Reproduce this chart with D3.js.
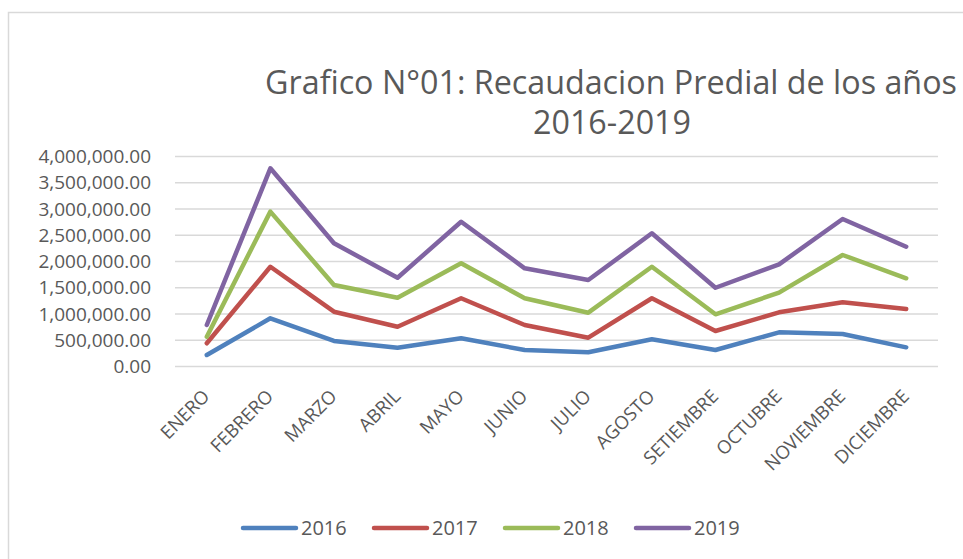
<!DOCTYPE html>
<html>
<head>
<meta charset="utf-8">
<script src="https://cdn.jsdelivr.net/npm/d3@7"></script>
<style>
  html, body { margin: 0; padding: 0; background: #fff; }
  svg { display: block; }
  text { font-family: "Open Sans", sans-serif; fill: #595959; }
</style>
</head>
<body>
<svg id="chart" width="963" height="559"></svg>
<script>
// ---- data ----
const months = ["ENERO","FEBRERO","MARZO","ABRIL","MAYO","JUNIO","JULIO","AGOSTO","SETIEMBRE","OCTUBRE","NOVIEMBRE","DICIEMBRE"];
const years = ["2016","2017","2018","2019"];
// Stacked line chart: each year's own value, stacked on previous years
const v2016 = [219000, 918000, 486000, 358000, 537000, 314000, 270000, 518000, 314000, 651000, 619000, 365000];
const v2017 = [223000, 982000, 558000, 400000, 763000, 476000, 279000, 782000, 362000, 381000, 604000, 730000];
const v2018 = [126000, 1050000, 508000, 552000, 666000, 510000, 476000, 600000, 318000, 374000, 901000, 585000];
const v2019 = [222000, 825000, 795000, 380000, 792000, 570000, 623000, 637000, 506000, 540000, 686000, 602000];
const yTicks = [0, 500000, 1000000, 1500000, 2000000, 2500000, 3000000, 3500000, 4000000];
const colors = ["#4f81bd", "#c0504d", "#9bbb59", "#8064a2"];
const titleLines = ["Grafico N°01: Recaudacion Predial de los años", "2016-2019"];

const table = months.map((m, i) => ({month: m, "2016": v2016[i], "2017": v2017[i], "2018": v2018[i], "2019": v2019[i]}));
const stacked = d3.stack().keys(years)(table);

const svg = d3.select("#chart");

// chart border (Excel chart area)
svg.append("path")
  .attr("d", "M8.5,559 L8.5,12.5 L963,12.5")
  .attr("fill", "none").attr("stroke", "#d9d9d9").attr("stroke-width", 1.5);

const plot = {left: 175, right: 938, top: 156.5, bottom: 366.5};

const x = d3.scaleBand().domain(months).range([plot.left, plot.right]);
const y = d3.scaleLinear().domain([0, 4000000]).range([plot.bottom, plot.top]);

// gridlines
svg.append("g").selectAll("line").data(yTicks).join("line")
  .attr("x1", plot.left).attr("x2", plot.right)
  .attr("y1", d => y(d)).attr("y2", d => y(d))
  .attr("stroke", "#d9d9d9").attr("stroke-width", 1.5);

// y axis labels
const fmt = d3.format(",.2f");
const yAxis = d3.axisLeft(y).tickValues(yTicks).tickFormat(fmt).tickSize(0).tickPadding(0);
const gy = svg.append("g").attr("transform", "translate(151,0)").call(yAxis);
gy.select(".domain").remove();
gy.selectAll("text").attr("font-size", "19px").attr("fill", "#595959")
  .style("font-family", "'Open Sans', sans-serif");

// x axis labels
const xAxis = d3.axisBottom(x).tickSize(0).tickPadding(0);
const gx = svg.append("g").attr("transform", `translate(0,${plot.bottom})`).call(xAxis);
gx.select(".domain").remove();
gx.selectAll(".tick text")
  .attr("font-size", "18.5px").attr("fill", "#595959")
  .style("font-family", "'Open Sans', sans-serif")
  .attr("text-anchor", "end")
  .attr("dy", null).attr("y", null)
  .attr("transform", "translate(4,31) rotate(-45)");

// lines
const line = d3.line()
  .x((d, i) => x(months[i]) + x.bandwidth() / 2)
  .y(d => y(d[1]));

svg.append("g").selectAll("path").data(stacked).join("path")
  .attr("d", s => line(s))
  .attr("fill", "none")
  .attr("stroke", (s, i) => colors[i])
  .attr("stroke-width", 4.5)
  .attr("stroke-linecap", "round")
  .attr("stroke-linejoin", "round");

// title
const t1 = svg.append("text").attr("x", 611).attr("y", 94).attr("text-anchor", "middle")
  .attr("font-size", "28px").text(titleLines[0]);
const w = t1.node().getComputedTextLength();
const fs = 28 * 692 / w;
t1.attr("font-size", fs + "px");
svg.append("text").attr("x", 612).attr("y", 134).attr("text-anchor", "middle")
  .attr("font-size", fs + "px").text(titleLines[1]);

// legend
const legendX = [243, 374, 505, 636];
const lg = svg.append("g").selectAll("g").data(years).join("g")
  .attr("transform", (d, i) => `translate(${legendX[i]},528)`);
lg.append("line").attr("x1", 0).attr("x2", 53).attr("y1", 0).attr("y2", 0)
  .attr("stroke", (d, i) => colors[i]).attr("stroke-width", 4.5).attr("stroke-linecap", "round");
lg.append("text").attr("x", 58).attr("y", 0).attr("dy", "0.35em")
  .attr("font-size", "20px").text(d => d);
</script>
</body>
</html>
